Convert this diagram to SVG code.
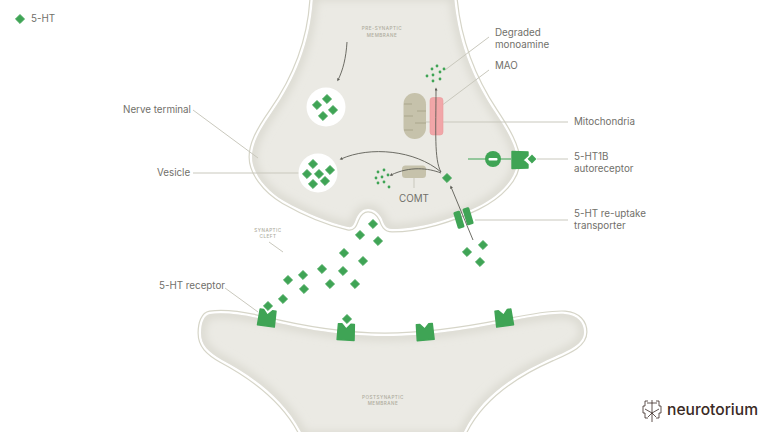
<svg xmlns="http://www.w3.org/2000/svg" width="768" height="432" viewBox="0 0 768 432">
<style>
text{font-family:Inter,"Liberation Sans",sans-serif}
.lb{font-size:9.8px;fill:#71706a}
.tiny{font-size:4.6px;fill:#aeac9d;letter-spacing:.5px;text-anchor:middle;font-weight:500}
.leader{stroke:#c9c8bd;stroke-width:1;fill:none}
.flow{stroke:#5c5c55;stroke-width:.9;fill:none;marker-end:url(#tip)}
.dot{fill:#3fa455}
.crista{stroke:#aaa68c;stroke-width:1;fill:none}
.memb{fill:none;stroke:#d6d5c8;stroke-width:7;stroke-linejoin:round}
.gap{fill:none;stroke:#fff;stroke-width:4.6;stroke-linejoin:round}
.cell{fill:#ebeae4}
.logo{stroke:#3a2a25;stroke-width:.8;fill:none}
</style>
<defs>
<marker id="tip" markerWidth="4" markerHeight="4" refX="1.5" refY="1.500" orient="auto" markerUnits="userSpaceOnUse"><path d="M0,0L3,1.500L0,3Z" fill="#5c5c55"/></marker>
<path id="dm" d="M0,-4.600L4.600,0L0,4.600L-4.600,0Z" fill="#3fa455" stroke="#3fa455" stroke-width=".7" stroke-linejoin="round"/>
<path id="rc" d="M-8,-8L-4.500,-8L0,-3L4.500,-8L8,-8L8.500,8L-8.500,8Z" fill="#3fa455" stroke="#3fa455" stroke-width="1.400" stroke-linejoin="round"/>
<path id="pre" d="M313,-4C311,40 296,78 272,112C258,132 252,145 252,157C252,172 265,190 284,201C305,213 330,223 348,227C353,228 354,224 356,219C359,212 363,209 368,209C374,209 379,213 382,219C384,225 386,229 392,229C420,229 452,219 477,207C500,196 517,178 517,161C517,147 507,130 495,112C475,82 458,45 454,-4Z"/>
<path id="post" d="M210,314C225,312 245,315 262,319C290,326 335,336 385,336C430,336 475,328 505,322C525,318 550,313 565,314C578,315 584,323 584,332C584,344 570,350 552,358C520,372 480,395 462,436L303,436C285,398 250,375 222,360C208,352 201,345 201,333C201,323 204,315 210,314Z"/>
<clipPath id="preClip"><use href="#pre"/></clipPath>
<clipPath id="postClip"><use href="#post"/></clipPath>
<filter id="soft" x="-10%" y="-10%" width="120%" height="120%"><feGaussianBlur stdDeviation="4"/></filter>
</defs>

<!-- key -->
<use href="#dm" transform="translate(20 19)"/>
<text class="lb" x="31" y="22">5-HT</text>

<!-- cell bodies -->
<g id="presynaptic-terminal">
<use href="#pre" class="memb"/>
<use href="#pre" class="gap"/>
<use href="#pre" class="cell"/>
<g clip-path="url(#preClip)"><use href="#pre" fill="none" stroke="#d9d8cf" stroke-width="8" filter="url(#soft)"/></g>
<text class="tiny" x="382" y="30">PRE-SYNAPTIC</text>
<text class="tiny" x="382" y="37">MEMBRANE</text>
</g>
<g id="postsynaptic-terminal">
<use href="#post" class="memb"/>
<use href="#post" class="gap"/>
<use href="#post" class="cell"/>
<g clip-path="url(#postClip)"><use href="#post" fill="none" stroke="#d9d8cf" stroke-width="8" filter="url(#soft)"/></g>
<text class="tiny" x="383" y="399">POSTSYNAPTIC</text>
<text class="tiny" x="383" y="405">MEMBRANE</text>
</g>

<!-- leader lines -->
<g id="leaders">
<path class="leader" d="M445,70L489,37"/>
<path class="leader" d="M441,106L489,70"/>
<path class="leader" d="M415,122H568"/>
<path class="leader" d="M537,159H568"/>
<path class="leader" d="M475,220H568"/>
<path class="leader" d="M193,110L258,158"/>
<path class="leader" d="M193,173H302"/>
<path class="leader" d="M225,288L258,312"/>
<path class="leader" d="M269,242L283,252"/>
<path class="leader" d="M414,178V188"/>
</g>

<g id="vesicle-upper">
<circle cx="326" cy="107" r="19.500" fill="#fff"/>
<use href="#dm" x="317" y="105"/><use href="#dm" x="327" y="99"/><use href="#dm" x="333" y="110"/><use href="#dm" x="323" y="116"/>
</g>
<g id="vesicle-lower">
<circle cx="318" cy="173" r="19.500" fill="#fff"/>
<use href="#dm" x="313" y="164"/><use href="#dm" x="307" y="174"/><use href="#dm" x="319" y="174"/><use href="#dm" x="330" y="170"/><use href="#dm" x="313" y="184"/><use href="#dm" x="325" y="181"/>
</g>
<g id="mitochondrion">
<rect x="403.500" y="93" width="22.500" height="46" rx="11.200" fill="#c6c2ab"/>
<path class="crista" d="M404,104H412M417,111H426M404,116H413M415,123H426M404,130H413"/>
</g>
<g id="mao"><rect x="430" y="97.500" width="13" height="37.500" rx="3" fill="#f1a6a8" stroke="#eb9a9c" stroke-width=".6"/></g>
<g id="comt">
<rect x="402" y="165.500" width="24" height="12.500" rx="3.500" fill="#c6c2ab"/>
<text class="lb" x="414" y="202" text-anchor="middle">COMT</text>
</g>
<g id="degraded-monoamine" class="dot">
<circle cx="432" cy="69" r="1.400"/><circle cx="437" cy="66" r="1.400"/><circle cx="444" cy="69" r="1.400"/><circle cx="427" cy="76" r="1.400"/><circle cx="433" cy="75" r="1.400"/><circle cx="440" cy="72" r="1.400"/><circle cx="433" cy="81" r="1.400"/><circle cx="440" cy="79" r="1.400"/>
</g>
<g id="comt-products" class="dot">
<circle cx="378" cy="172" r="1.400"/><circle cx="384" cy="170" r="1.400"/><circle cx="376" cy="178" r="1.400"/><circle cx="382" cy="177" r="1.400"/><circle cx="388" cy="175" r="1.400"/><circle cx="378" cy="183" r="1.400"/><circle cx="384" cy="182" r="1.400"/><circle cx="389" cy="187" r="1.400"/>
</g>

<g id="reuptake-transporter" fill="#3fa455">
<rect x="455.500" y="211" width="7" height="17.500" rx="1.500" transform="rotate(-17 459 220)"/>
<rect x="464.500" y="207.500" width="7" height="17.500" rx="1.500" transform="rotate(-17 468 216)"/>
</g>

<!-- transmitter movement -->
<g id="connectors">
<path class="flow" d="M347,42C346,58 343,70 338,80"/>
<path class="flow" d="M441,172C434,160 436,130 436,89"/>
<path class="flow" d="M441,172C415,150 370,146 341,159"/>
<path class="flow" d="M441,173C428,168 410,166 391,175"/>
<path class="flow" d="M473,240L451,187"/>
</g>

<g id="serotonin">
<use href="#dm" x="447" y="178"/>
<use href="#dm" x="373" y="224"/><use href="#dm" x="360" y="235"/><use href="#dm" x="378" y="241"/><use href="#dm" x="344" y="253"/><use href="#dm" x="363" y="261"/><use href="#dm" x="322" y="269"/><use href="#dm" x="343" y="271"/><use href="#dm" x="303" y="275"/><use href="#dm" x="288" y="280"/><use href="#dm" x="330" y="284"/><use href="#dm" x="355" y="284"/><use href="#dm" x="304" y="289"/><use href="#dm" x="283" y="299"/><use href="#dm" x="268" y="306"/><use href="#dm" x="347" y="319"/>
<use href="#dm" x="483" y="245"/><use href="#dm" x="467" y="252"/><use href="#dm" x="480" y="262"/>
</g>

<g id="autoreceptor">
<path d="M468,159H511" stroke="#3fa455" stroke-width="1.200"/>
<circle cx="493" cy="159" r="8" fill="#3fa455"/>
<rect x="488.500" y="158" width="9" height="2.500" rx="1" fill="#fff"/>
<use href="#rc" transform="translate(520 160) rotate(90)"/>
<use href="#dm" transform="translate(532 159) scale(.9)"/>
</g>
<g id="receptors">
<use id="receptor-1" href="#rc" transform="translate(267 318) rotate(8)"/>
<use id="receptor-2" href="#rc" transform="translate(346 332) rotate(3)"/>
<use id="receptor-3" href="#rc" transform="translate(425 332) rotate(-5)"/>
<use id="receptor-4" href="#rc" transform="translate(504 318) rotate(-8)"/>
</g>

<g id="labels">
<text class="lb" x="495" y="36">Degraded</text>
<text class="lb" x="495" y="48">monoamine</text>
<text class="lb" x="495" y="69">MAO</text>
<text class="lb" x="574" y="125">Mitochondria</text>
<text class="lb" x="574" y="160">5-HT1B</text>
<text class="lb" x="574" y="172">autoreceptor</text>
<text class="lb" x="574" y="217">5-HT re-uptake</text>
<text class="lb" x="574" y="229">transporter</text>
<text class="lb" x="123" y="113">Nerve terminal</text>
<text class="lb" x="157" y="176">Vesicle</text>
<text class="lb" x="159" y="289">5-HT receptor</text>
<text class="tiny" x="268" y="232">SYNAPTIC</text>
<text class="tiny" x="268" y="238">CLEFT</text>
</g>

<g id="brand">
<g class="logo">
<path d="M652,400V422M647,403H657M645,409L652,413L659,409M648,417L652,413L656,417"/>
<path d="M648,401H645V406H643V413H645V418H648M656,401H659V406H661V413H659V418H656"/>
</g>
<text x="667" y="414.500" font-size="15.600" font-weight="500" fill="#3a2a25">neurotorium</text>
</g>
</svg>
